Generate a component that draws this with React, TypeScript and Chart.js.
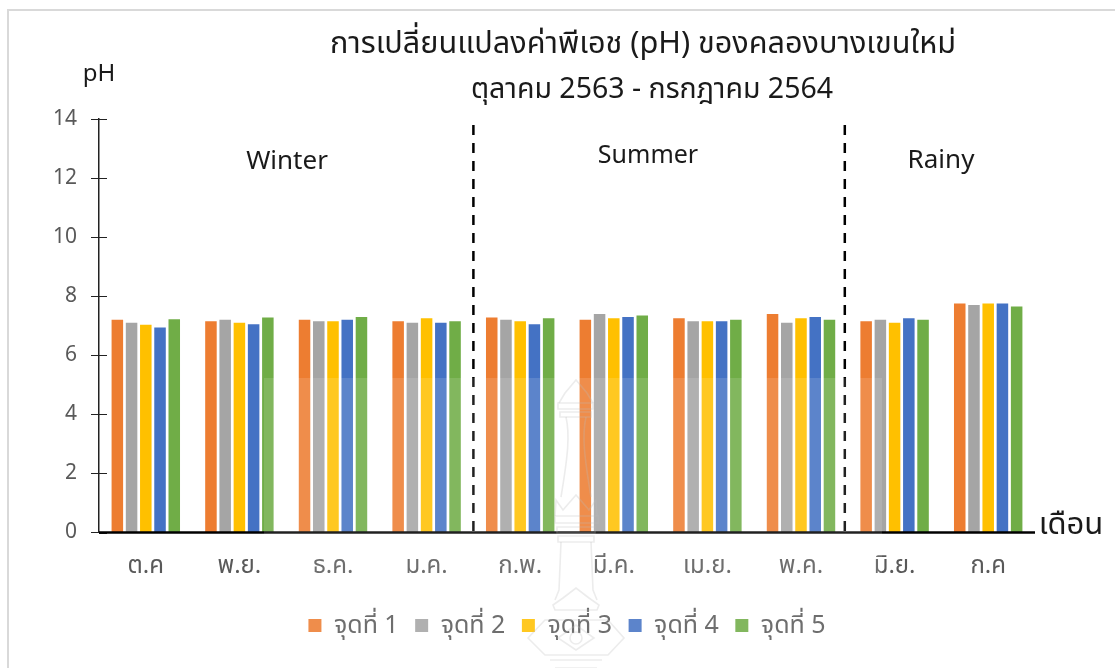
import React, { useEffect, useRef } from "react";
import { Chart, registerables } from "chart.js";

Chart.register(...registerables);

const months = ["ต.ค", "พ.ย.", "ธ.ค.", "ม.ค.", "ก.พ.", "มี.ค.", "เม.ย.", "พ.ค.", "มิ.ย.", "ก.ค"];
const seriesNames = ["จุดที่ 1", "จุดที่ 2", "จุดที่ 3", "จุดที่ 4", "จุดที่ 5"];
const colors = ["#ED7D31", "#A5A5A5", "#FFC000", "#4472C4", "#70AD47"];
const point1 = [7.2, 7.15, 7.2, 7.15, 7.28, 7.2, 7.25, 7.4, 7.15, 7.75];
const point2 = [7.1, 7.2, 7.15, 7.1, 7.2, 7.4, 7.15, 7.1, 7.2, 7.7];
const point3 = [7.03, 7.1, 7.15, 7.25, 7.15, 7.25, 7.15, 7.25, 7.1, 7.75];
const point4 = [6.94, 7.05, 7.2, 7.1, 7.05, 7.3, 7.15, 7.3, 7.25, 7.75];
const point5 = [7.22, 7.28, 7.3, 7.15, 7.25, 7.35, 7.2, 7.2, 7.2, 7.65];
const allSeries = [point1, point2, point3, point4, point5];
const titleLines = ["การเปลี่ยนแปลงค่าพีเอช (pH) ของคลองบางเขนใหม่", "ตุลาคม 2563 - กรกฎาคม 2564"];
const FONT = '"Noto Sans", "Noto Sans Thai", "DejaVu Sans", sans-serif';

function drawWatermark(ctx: CanvasRenderingContext2D) {
  ctx.save();
  // pale wash of the scanned watermark
  ctx.fillStyle = "rgba(255,255,255,0.13)";
  ctx.fillRect(264, 378, 618, 290);
  ctx.strokeStyle = "rgba(185,185,185,0.28)";
  ctx.lineWidth = 1.6;
  const path = (d: string) => ctx.stroke(new Path2D(d));
  path("M559 403 L565 393 L576 380 L587 393 L593 403");
  path("M558 403 h35 v6 h-35 Z M560 412 h31 v5 h-31 Z");
  path("M566 417 C570 435 568 455 561 497 M586 417 C582 435 584 455 591 497");
  path("M555 516 L556 500 L563 510 L569 503 L576 495 L583 503 L589 510 L596 500 L597 516");
  path("M555 516 h43 v7 h-43 Z M557 527 h38 v6 h-38 Z M558 536 h36 v6 h-36 Z");
  path("M561 542 L559 590 L555 600 M591 542 L593 590 L597 600");
  path("M553 605 L563 598 L576 588 L589 598 L599 605 L597 610 L555 610 Z");
  path("M528 638 L545 620 L608 620 L624 638 L608 655 L545 655 Z");
  path("M558 638 L576 625 L594 638 L576 650 Z");
  path("M582 638 A6 6 0 1 1 570 638 A6 6 0 1 1 582 638");
  path("M550 660 L602 660 M555 668 L597 668");
  ctx.restore();
}

const annotate = {
  id: "annotate",
  afterDatasetsDraw(chart: any) {
    const { ctx, scales } = chart;
    const x = scales.x;
    const y = scales.y;
    const boundary = (i: number) => (x.getPixelForTick(i) + x.getPixelForTick(i + 1)) / 2;
    ctx.save();
    // y axis inner half of the crossing ticks
    ctx.strokeStyle = "#222";
    ctx.lineWidth = 1;
    y.ticks.forEach((t: any) => {
      const py = Math.round(y.getPixelForValue(t.value)) + 0.5;
      ctx.beginPath();
      ctx.moveTo(x.left, py);
      ctx.lineTo(x.left + 8, py);
      ctx.stroke();
    });
    // x axis
    ctx.strokeStyle = "#000";
    ctx.lineWidth = 2.4;
    ctx.beginPath();
    ctx.moveTo(x.left, y.bottom);
    ctx.lineTo(x.right, y.bottom);
    ctx.stroke();
    // season separators
    ctx.lineWidth = 2.5;
    ctx.setLineDash([10, 8]);
    [3, 7].forEach((i) => {
      const bx = boundary(i) - (i === 7 ? 3 : 0);
      ctx.beginPath();
      ctx.moveTo(bx, y.top + 6);
      ctx.lineTo(bx, y.bottom);
      ctx.stroke();
    });
    ctx.setLineDash([]);
    ctx.fillStyle = "#1a1a1a";
    ctx.textAlign = "center";
    ctx.textBaseline = "middle";
    ctx.font = `26px ${FONT}`;
    ctx.fillText("Winter", 287, 162);
    ctx.fillText("Rainy", 941, 161);
    ctx.font = `25px ${FONT}`;
    ctx.fillText("Summer", 648, 156);
    ctx.font = `30.6px ${FONT}`;
    ctx.fillText(titleLines[0], 643, 44);
    ctx.font = `28.5px ${FONT}`;
    ctx.fillText(titleLines[1], 652, 90);
    ctx.font = `24px ${FONT}`;
    ctx.fillText("pH", 99, 74);
    ctx.font = `31px ${FONT}`;
    ctx.fillText("เดือน", 1071, 525);
    ctx.restore();
  },
  afterDraw(chart: any) {
    drawWatermark(chart.ctx);
  },
};

export default function App() {
  const ref = useRef<HTMLCanvasElement>(null);
  useEffect(() => {
    document.body.style.margin = "0";
    const chart = new Chart(ref.current!, {
      type: "bar",
      data: {
        labels: months,
        datasets: allSeries.map((d, i) => ({
          label: seriesNames[i],
          data: d,
          backgroundColor: colors[i],
          categoryPercentage: 0.76,
          barPercentage: 0.81,
        })),
      },
      options: {
        responsive: false,
        animation: false,
        layout: { padding: { top: 119, left: 0, right: 80, bottom: 20 } },
        plugins: {
          title: { display: false },
          tooltip: { enabled: false },
          legend: {
            position: "bottom",
            fullSize: false,
            labels: {
              boxWidth: 13,
              boxHeight: 13,
              padding: 16.5,
              color: "#595959",
              font: { family: FONT, size: 25 },
            },
          },
        },
        scales: {
          x: {
            grid: { display: false },
            border: { display: false },
            afterFit: (s: any) => { s.height = 64; },
            ticks: { color: "#595959", padding: 11, maxRotation: 0, font: { family: FONT, size: 24 } },
          },
          y: {
            min: 0,
            max: 14,
            afterFit: (s: any) => { s.width = 99; },
            grid: { drawOnChartArea: false, tickLength: 8, color: "#222" },
            border: { color: "#222", width: 1.5 },
            ticks: { stepSize: 2, color: "#595959", padding: 14, font: { family: FONT, size: 21 } },
          },
        },
      },
      plugins: [annotate],
    } as any);
    return () => chart.destroy();
  }, []);
  return (
    <div style={{ position: "relative", width: 1115, height: 668, background: "#fff", overflow: "hidden" }}>
      <canvas ref={ref} width={1115} height={668} style={{ display: "block" }} />
      <div style={{ position: "absolute", left: 7, top: 9, width: 1120, height: 680, borderLeft: "2px solid #d9d9d9", borderTop: "2px solid #d9d9d9", pointerEvents: "none" }} />
    </div>
  );
}
